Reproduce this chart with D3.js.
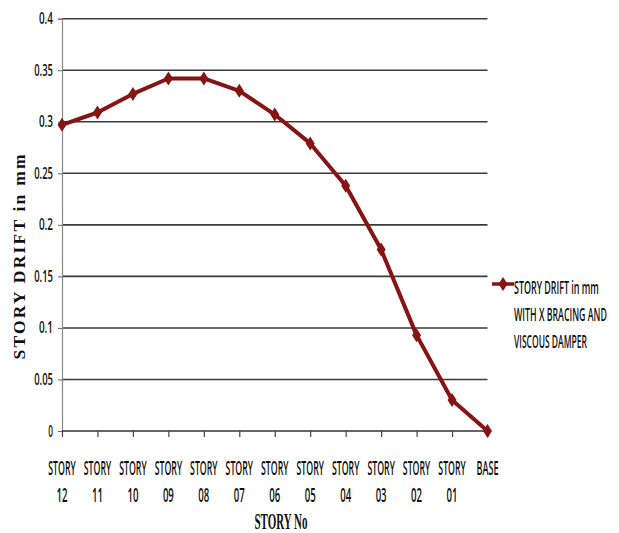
<!DOCTYPE html>
<html>
<head>
<meta charset="utf-8">
<script src="https://cdn.jsdelivr.net/npm/d3@7"></script>
<style>
html,body{margin:0;padding:0;background:#fff;}
svg{display:block;}
</style>
</head>
<body>
<svg id="chart" width="619" height="533"></svg>
<script>
const categories = ["STORY 12","STORY 11","STORY 10","STORY 09","STORY 08","STORY 07","STORY 06","STORY 05","STORY 04","STORY 03","STORY 02","STORY 01","BASE"];
const driftValues = [0.297,0.309,0.327,0.342,0.342,0.330,0.307,0.279,0.238,0.176,0.093,0.030,0];
const yTicks = [0,0.05,0.1,0.15,0.2,0.25,0.3,0.35,0.4];
const yTickLabels = ["0","0.05","0.1","0.15","0.2","0.25","0.3","0.35","0.4"];
const legendLines = ["STORY DRIFT in mm","WITH X BRACING AND","VISCOUS DAMPER"];
const yTitle = "STORY DRIFT in mm";
const xTitle = "STORY No";

const svg = d3.select("#chart");
const lineColor = "#861414";
const sansFont = "'Open Sans', 'Liberation Sans', sans-serif";
const serifFont = "'Liberation Serif', 'DejaVu Serif', serif";
const x = d3.scalePoint().domain(categories).range([62, 487.5]);
const y = d3.scaleLinear().domain([0, 0.4]).range([431, 18.7]);

function condensed(parent, str, tx, ty, w, anchor, size, family, weight) {
  const t = parent.append("text")
    .attr("text-anchor", anchor)
    .attr("font-family", family)
    .attr("font-size", size)
    .attr("font-weight", weight || "normal")
    .attr("fill", "#111")
    .text(str);
  const natural = t.node().getComputedTextLength();
  const s = w / natural;
  t.attr("transform", `translate(${tx},${ty}) scale(${s},1)`);
  return t;
}

// gridlines
svg.append("g").selectAll("line").data(yTicks.filter(d => d > 0)).join("line")
  .attr("x1", 62).attr("x2", 487.5)
  .attr("y1", d => y(d)).attr("y2", d => y(d))
  .attr("stroke", "#3a3a3a").attr("stroke-width", 1.6);

// y axis
const yAxis = d3.axisLeft(y).tickValues(yTicks).tickSize(4).tickFormat("");
const gy = svg.append("g").attr("transform", "translate(62,0)").call(yAxis);
gy.select(".domain").attr("stroke", "#888").attr("stroke-width", 1.2);
gy.selectAll(".tick line").attr("stroke", "#666");
const yLab = svg.append("g");
yTicks.forEach((v, i) => {
  condensed(yLab, yTickLabels[i], 53, y(v) + 5.5, yTickLabels[i].length * 4.7, "end", 15.5, sansFont, 600);
});

// x axis
const xAxis = d3.axisBottom(x).tickSize(6).tickFormat("");
const gx = svg.append("g").attr("transform", "translate(0,431)").call(xAxis);
gx.select(".domain").attr("stroke", "#333").attr("stroke-width", 1.6).attr("d", "M62,0H487.5");
gx.selectAll(".tick line").attr("stroke", "#444").attr("stroke-width", 1.2);

// x labels (two lines)
const xl = svg.append("g");
categories.forEach(c => {
  c.split(" ").forEach((p, i) => {
    condensed(xl, p, x(c), 475 + i * 27, p.length * 5.5, "middle", 19, sansFont, 600);
  });
});

// line
const line = d3.line().x((d, i) => x(categories[i])).y(d => y(d));
svg.append("path").datum(driftValues)
  .attr("d", line).attr("fill", "none")
  .attr("stroke", lineColor).attr("stroke-width", 4)
  .attr("stroke-linejoin", "round");

// markers
const diamond = "M0,-7L4.5,0L0,7L-4.5,0Z";
svg.append("g").selectAll("path").data(driftValues).join("path")
  .attr("transform", (d, i) => `translate(${x(categories[i])},${y(d)})`)
  .attr("d", diamond).attr("fill", lineColor);

// y title
svg.append("text")
  .attr("transform", "translate(25,257) rotate(-90)")
  .attr("text-anchor", "middle")
  .attr("font-family", serifFont)
  .attr("font-weight", "bold").attr("font-size", 17.5).attr("fill", "#111")
  .attr("textLength", 205).attr("lengthAdjust", "spacing")
  .text(yTitle);

// x title
condensed(svg, xTitle, 281, 529, 53, "middle", 24, serifFont, "bold");

// legend
const lg = svg.append("g");
lg.append("line").attr("x1", 492).attr("x2", 514).attr("y1", 284).attr("y2", 284)
  .attr("stroke", lineColor).attr("stroke-width", 3.5);
lg.append("path").attr("transform", "translate(503,284)").attr("d", diamond).attr("fill", lineColor);
const legendWidths = [85, 93, 73];
legendLines.forEach((d, i) => {
  condensed(lg, d, 514, 294 + i * 27, legendWidths[i], "start", 17.5, sansFont, 600);
});
</script>
</body>
</html>
